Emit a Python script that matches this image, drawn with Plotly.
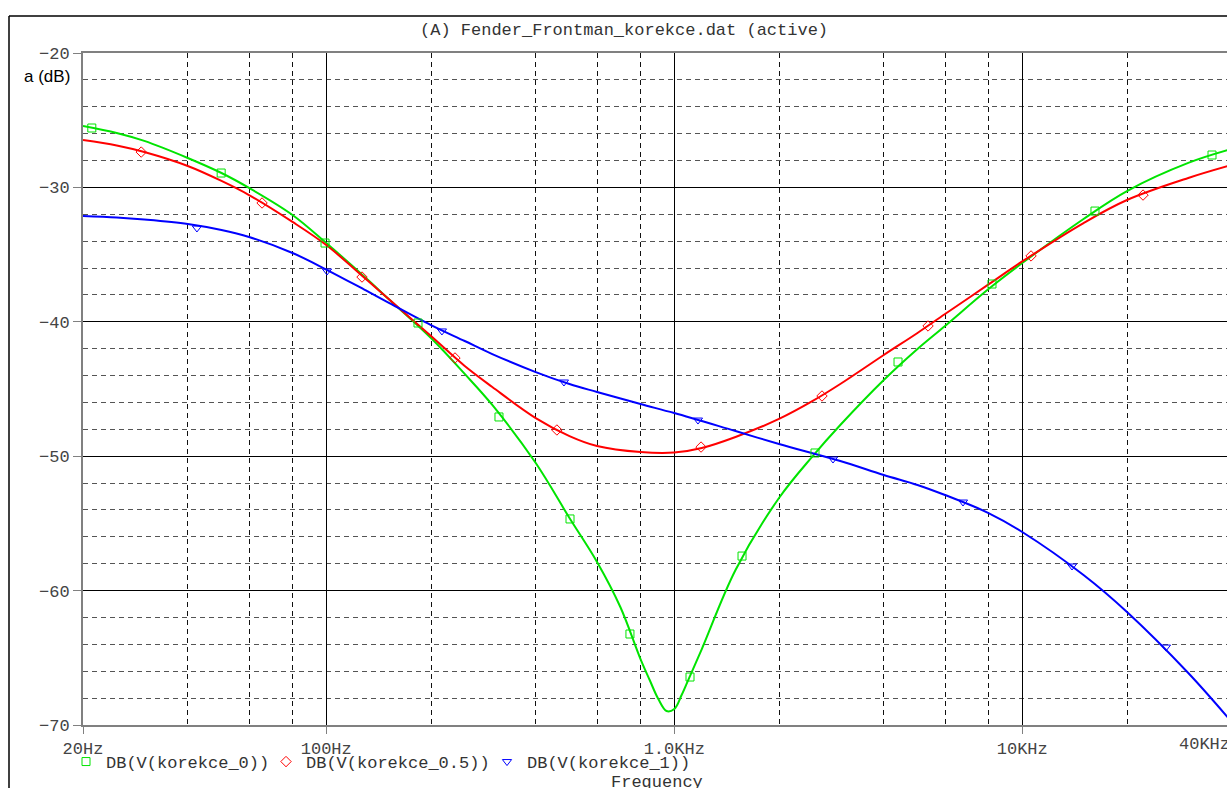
import math
import plotly.graph_objects as go

# ---------------- data ----------------
freq_0 = [20, 25, 30, 40, 50, 60, 80, 100, 130, 150, 200, 250, 300, 400, 500, 600, 700, 800, 850,
          900, 950, 1000, 1050, 1100, 1200, 1500, 2000, 2500, 3000, 4000, 5000, 6000, 8000,
          10000, 15000, 20000, 30000, 40000]
db_korekce_0 = [-25.43, -25.95, -26.54, -27.81, -28.93, -30.04, -32.05, -34.14, -36.74, -38.23, -41.21,
                -43.88, -46.19, -50.51, -54.60, -57.87, -61.22, -65.09, -66.65,
                -68.07, -68.96, -68.81, -67.77, -66.58, -64.35, -58.47, -53.11, -49.99, -47.68,
                -44.33, -42.02, -40.31, -37.56, -35.63, -32.35, -30.27, -28.18, -27.14]

freq_05 = [20, 25, 30, 40, 50, 60, 80, 100, 130, 150, 200, 250, 300, 400, 500, 600, 800, 1000,
           1200, 1500, 2000, 2500, 3000, 4000, 5000, 6000, 8000, 10000, 15000, 20000, 30000, 40000]
db_korekce_05 = [-26.47, -26.88, -27.37, -28.41, -29.52, -30.57, -32.57, -34.29, -36.82, -38.23, -41.06,
                 -43.29, -44.85, -47.16, -48.50, -49.24, -49.69, -49.73, -49.39, -48.57, -47.23,
                 -45.89, -44.63, -42.47, -40.83, -39.42, -37.22, -35.51, -32.65, -30.94, -29.30,
                 -28.33]

freq_1 = [20, 25, 30, 40, 50, 60, 80, 100, 130, 150, 200, 250, 300, 400, 500, 600, 800, 1000,
          1500, 2000, 3000, 4000, 5000, 6000, 8000, 10000, 15000, 20000, 30000, 40000]
db_korekce_1 = [-32.13, -32.24, -32.39, -32.72, -33.17, -33.69, -34.88, -36.11, -37.67, -38.53, -40.24,
                -41.43, -42.40, -43.74, -44.63, -45.22, -46.12, -46.79, -48.13, -49.09, -50.36,
                -51.40, -52.14, -52.89, -54.23, -55.64, -58.84, -61.59, -66.13, -69.78]

marker_f_0 = [21.2, 49.9, 99.2, 183.5, 313.6, 501.7, 746, 1110, 1566, 2538, 4396, 8186, 16180, 35100]
marker_db_0 = [-25.58, -28.93, -34.14, -40.09, -47.08, -54.67, -63.23, -66.43, -57.43, -49.76,
               -42.99, -37.19, -31.76, -27.59]

marker_f_05 = [29.4, 65.4, 126.7, 234.4, 460, 1194, 2658, 5362, 10600, 22240]
marker_db_05 = [-27.37, -31.16, -36.67, -42.69, -48.05, -49.32, -45.52, -40.31, -35.10, -30.57]

marker_f_1 = [42.5, 100.5, 215, 482, 1170, 2859, 6758, 13900, 25880]
marker_db_1 = [-33.02, -36.22, -40.68, -44.48, -47.31, -50.21, -53.41, -58.17, -64.20]

series_names = ["DB(V(korekce_0))", "DB(V(korekce_0.5))", "DB(V(korekce_1))"]

x_tick_vals = [20, 100, 1000, 10000]
x_tick_text = ["20Hz", "100Hz", "1.0KHz", "10KHz"]
x_last_label = "40KHz"
x_minor_vals = [40, 60, 80, 200, 400, 600, 800, 2000, 4000, 6000, 8000, 20000]
y_tick_vals = [-70, -60, -50, -40, -30, -20]
y_tick_text = ["\u221270", "\u221260", "\u221250", "\u221240", "\u221230", "\u221220"]
y_minor_vals = [v for v in range(-68, -20, 2) if v % 10 != 0]

# ---------------- layout geometry ----------------
W, H = 1227, 788
ML, MR, MT, MB = 83, 0, 53, 63
PW, PH = W - ML - MR, H - MT - MB


def px_x(px):
    return (px - ML) / PW


def px_y(py):
    return 1 - (py - MT) / PH


MONO = "Liberation Mono, Courier New, monospace"
SANS = "Liberation Sans, Arial, sans-serif"

colors = ["#00e400", "#ff0000", "#0000ff"]
symbols = ["square-open", "diamond-open", "triangle-down-open"]
legend_ids = ["legend", "legend2", "legend3"]
legend_x_px = [66, 266, 487]

fig = go.Figure()
for xs, ys, c in zip([freq_0, freq_05, freq_1], [db_korekce_0, db_korekce_05, db_korekce_1], colors):
    fig.add_trace(go.Scatter(x=xs, y=ys, mode="lines",
                             line=dict(color=c, width=2, shape="spline", smoothing=1.0),
                             showlegend=False, hoverinfo="skip"))

for mf, md, c, s, n, lg in zip([marker_f_0, marker_f_05, marker_f_1],
                               [marker_db_0, marker_db_05, marker_db_1],
                               colors, symbols, series_names, legend_ids):
    fig.add_trace(go.Scatter(x=mf, y=md, mode="markers", name=n, legend=lg,
                             marker=dict(symbol=s, size=8, color=c, line=dict(color=c, width=1))))

x_right = 20 * 10 ** (PW / 348.0)

legend_common = dict(orientation="h", xanchor="left", y=px_y(744), yanchor="top",
                     font=dict(family=MONO, size=17, color="#333333"),
                     bgcolor="rgba(0,0,0,0)", itemwidth=30)

fig.update_layout(
    width=W, height=H,
    margin=dict(l=ML, r=MR, t=MT, b=MB, pad=0),
    paper_bgcolor="white", plot_bgcolor="white",
    showlegend=True,
    legend=dict(x=px_x(legend_x_px[0]), **legend_common),
    legend2=dict(x=px_x(legend_x_px[1]), **legend_common),
    legend3=dict(x=px_x(legend_x_px[2]), **legend_common),
    xaxis=dict(type="log", range=[math.log10(20), math.log10(x_right)],
               tickmode="array", tickvals=x_tick_vals, ticktext=x_tick_text,
               tickfont=dict(family=MONO, size=17, color="#444444"),
               ticks="outside", ticklen=7, tickcolor="#808080", tickwidth=1,
               showgrid=True, gridcolor="#000000", gridwidth=1,
               minor=dict(tickvals=x_minor_vals, showgrid=True, gridcolor="#111111",
                          griddash="5px,4px", gridwidth=1, ticks=""),
               showline=True, linecolor="#808080", linewidth=2, mirror=True,
               zeroline=False, fixedrange=True),
    yaxis=dict(range=[-70, -20], tickmode="array", tickvals=y_tick_vals, ticktext=y_tick_text,
               tickfont=dict(family=MONO, size=17, color="#444444"),
               ticks="outside", ticklen=8, tickcolor="#808080", tickwidth=1,
               showgrid=True, gridcolor="#000000", gridwidth=1,
               minor=dict(tickvals=y_minor_vals, showgrid=True, gridcolor="#555555",
                          griddash="5px,4px", gridwidth=1, ticks=""),
               showline=True, linecolor="#808080", linewidth=2, mirror=False,
               zeroline=False, fixedrange=True),
)

fig.add_annotation(text="(A) Fender_Frontman_korekce.dat (active)", xref="paper", yref="paper",
                   x=px_x(624), y=px_y(30), xanchor="center", yanchor="middle", showarrow=False,
                   font=dict(family=MONO, size=17, color="#333333"))
fig.add_annotation(text="a (dB)", xref="paper", yref="paper",
                   x=px_x(72), y=px_y(77), xanchor="right", yanchor="middle", showarrow=False,
                   font=dict(family=SANS, size=17, color="#000000"))
fig.add_annotation(text="Frequency", xref="paper", yref="paper",
                   x=px_x(657), y=px_y(782), xanchor="center", yanchor="middle", showarrow=False,
                   font=dict(family=MONO, size=17, color="#333333"))
fig.add_annotation(text=x_last_label, xref="paper", yref="paper",
                   x=px_x(1232), y=px_y(744),
                   xanchor="right", yanchor="middle", showarrow=False,
                   font=dict(family=MONO, size=17, color="#444444"))

fig.add_shape(type="line", xref="paper", yref="paper", x0=px_x(9), x1=px_x(W + 5),
              y0=px_y(16), y1=px_y(16), line=dict(color="#000000", width=1.5))
fig.add_shape(type="line", xref="paper", yref="paper", x0=px_x(9), x1=px_x(9),
              y0=px_y(16), y1=px_y(H + 5), line=dict(color="#000000", width=1.5))

fig.write_html("out.html")
